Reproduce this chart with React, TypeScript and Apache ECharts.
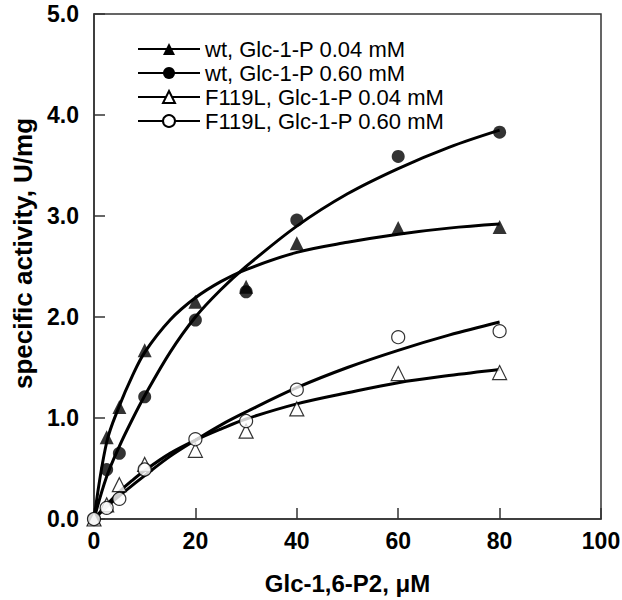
import React, { useEffect, useRef } from "react";
import * as echarts from "echarts";

const FONT = 'Arial, "Liberation Sans", Helvetica, sans-serif';

// Legend / series names
const seriesNames = [
  "wt, Glc-1-P 0.04 mM",
  "wt, Glc-1-P 0.60 mM",
  "F119L, Glc-1-P 0.04 mM",
  "F119L, Glc-1-P 0.60 mM",
];

// Measured points (x in µM Glc-1,6-P2)
const pointX = [0, 2.5, 5, 10, 20, 30, 40, 60, 80];
const wt004Points = [0, 0.81, 1.11, 1.67, 2.15, 2.3, 2.73, 2.88, 2.89];
const wt060Points = [0, 0.49, 0.65, 1.21, 1.97, 2.25, 2.96, 3.59, 3.83];
const f004Points = [0, 0.14, 0.34, 0.54, 0.68, 0.87, 1.09, 1.44, 1.45];
const f060Points = [0, 0.11, 0.2, 0.49, 0.79, 0.97, 1.28, 1.8, 1.86];

// Fitted curves
const fitX = [0, 2.5, 5, 7.5, 10, 15, 20, 25, 30, 40, 50, 60, 70, 80];
const wt004Fit = [0, 0.76, 1.12, 1.41, 1.65, 1.97, 2.19, 2.35, 2.47, 2.64, 2.74, 2.82, 2.88, 2.92];
const wt060Fit = [0, 0.42, 0.72, 0.98, 1.22, 1.65, 2.0, 2.27, 2.5, 2.9, 3.22, 3.47, 3.68, 3.85];
const f004Fit = [0, 0.14, 0.27, 0.38, 0.48, 0.65, 0.78, 0.89, 0.99, 1.14, 1.25, 1.35, 1.42, 1.48];
const f060Fit = [0, 0.12, 0.23, 0.33, 0.43, 0.62, 0.78, 0.93, 1.06, 1.3, 1.5, 1.67, 1.82, 1.95];

const pointSets = [wt004Points, wt060Points, f004Points, f060Points];
const fitSets = [wt004Fit, wt060Fit, f004Fit, f060Fit];
const symbols = ["triangle", "circle", "triangle", "circle"];
const filled = [true, true, false, false];

export default function App() {
  const ref = useRef<HTMLDivElement>(null);

  useEffect(() => {
    if (!ref.current) return;
    const chart = echarts.init(ref.current, null, { renderer: "svg" });

    const lineSeries = seriesNames.map((name, k) => ({
      name,
      type: "line",
      data: fitX.map((x, i) => [x, fitSets[k][i]]),
      smooth: 0.35,
      showSymbol: false,
      symbol: filled[k] ? symbols[k] : "empty" + symbols[k][0].toUpperCase() + symbols[k].slice(1),
      lineStyle: { color: "#000", width: 3 },
      itemStyle: { color: "#000" },
      z: 2,
      silent: true,
    }));

    const scatterSeries = seriesNames.map((name, k) => ({
      name: name + " (data)",
      type: "scatter",
      data: pointX.map((x, i) => [x, pointSets[k][i]]),
      symbol: symbols[k],
      symbolSize: symbols[k] === "triangle" ? 14 : 13,
      itemStyle: filled[k]
        ? { color: "#000" }
        : { color: "#fff", borderColor: "#000", borderWidth: 1.2 },
      z: 3,
      silent: true,
    }));

    chart.setOption({
      animation: false,
      backgroundColor: "#fff",
      grid: {
        left: 94,
        top: 14,
        right: 21,
        bottom: 81,
        show: true,
        borderColor: "#333",
        borderWidth: 1.5,
        backgroundColor: "transparent",
        containLabel: false,
        outerBoundsMode: "none",
      },
      legend: {
        data: seriesNames,
        orient: "vertical",
        left: 132,
        top: 32,
        itemWidth: 62,
        itemHeight: 15,
        itemGap: 0,
        selectedMode: false,
        lineStyle: { width: 2 },
        textStyle: {
          fontFamily: FONT,
          fontSize: 22,
          color: "#000",
          lineHeight: 24,
        },
      },
      xAxis: {
        type: "value",
        min: 0,
        max: 100,
        interval: 20,
        name: "Glc-1,6-P2, \u03bcM",
        nameLocation: "middle",
        nameGap: 52,
        nameTextStyle: { fontFamily: FONT, fontSize: 24, fontWeight: "bold", color: "#000" },
        axisLine: { show: true, lineStyle: { color: "#333", width: 1.5 } },
        axisTick: { show: true, inside: true, length: 11, lineStyle: { color: "#333", width: 1.5 } },
        axisLabel: {
          fontFamily: FONT,
          fontSize: 23,
          fontWeight: "bold",
          color: "#000",
          margin: 10,
        },
        splitLine: { show: false },
      },
      yAxis: {
        type: "value",
        min: 0,
        max: 5,
        interval: 1,
        name: "specific activity, U/mg",
        nameLocation: "middle",
        nameGap: 52,
        nameTextStyle: {
          fontFamily: FONT,
          fontSize: 26,
          fontWeight: "bold",
          color: "#000",
          padding: [0, 0, 0, 26],
        },
        axisLine: { show: true, lineStyle: { color: "#333", width: 1.5 } },
        axisTick: { show: true, inside: true, length: 11, lineStyle: { color: "#333", width: 1.5 } },
        axisLabel: {
          fontFamily: FONT,
          fontSize: 23,
          fontWeight: "bold",
          color: "#000",
          margin: 15,
          formatter: (v: number) => v.toFixed(1),
        },
        splitLine: { show: false },
      },
      series: [...lineSeries, ...scatterSeries],
    });

    return () => chart.dispose();
  }, []);

  return <div ref={ref} style={{ width: 622, height: 600, position: "absolute", left: 0, top: 0 }} />;
}
